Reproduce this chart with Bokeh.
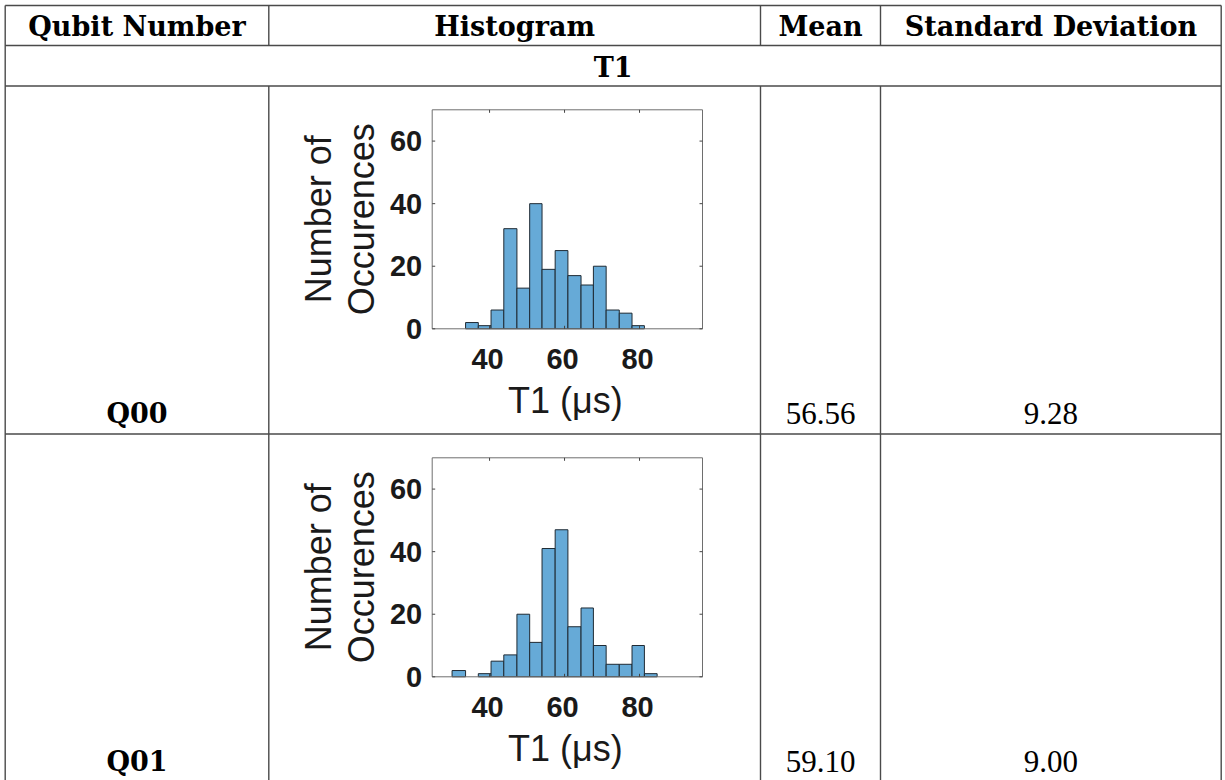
import math
from bokeh.plotting import figure
from bokeh.models import Range1d
from bokeh.core.properties import value
from bokeh.embed import file_html
from bokeh.resources import INLINE

# ---------------- data ----------------
column_headers = ["Qubit Number", "Histogram", "Mean", "Standard Deviation"]
section_title = "T1"
qubits = ["Q00", "Q01"]
means = ["56.56", "59.10"]
std_devs = ["9.28", "9.00"]

bin_edges = [30.0, 33.6, 37.0, 40.4, 43.8, 47.3, 50.7, 54.0, 57.5, 60.9,
             64.4, 67.7, 71.1, 74.6, 78.0, 81.3, 84.7]
q00_counts = [0, 2, 1, 6, 32, 13, 40, 19, 25, 17, 14, 20, 6, 5, 1, 0]
q01_counts = [2, 0, 1, 5, 7, 20, 11, 41, 47, 16, 22, 10, 4, 4, 10, 1]
counts = [q00_counts, q01_counts]

x_ticks = [40, 60, 80]
y_ticks = [0, 20, 40, 60]
x_limits = [24.7, 96.8]
y_limits = [0, 70]
x_label = "T1 (\u03bcs)"
y_label_lines = ["Number of", "Occurences"]

# ---------------- layout ----------------
W, H = 1225, 780
col_x = [4.7, 268.3, 760.0, 880.0, 1220.7]
row_y = [5.0, 45.0, 85.5, 433.5, 780.0]
row_h = row_y[3] - row_y[2]

frame_left, frame_right = 431.7, 702.0
frame_top0, frame_bottom0 = 109.3, 328.3

p = figure(width=W, height=H, output_backend="svg", toolbar_location=None,
           x_range=Range1d(0, W), y_range=Range1d(H, 0),
           x_axis_location=None, y_axis_location=None,
           min_border=0, outline_line_color=None)
p.grid.visible = False
p.background_fill_color = "white"
p.border_fill_color = "white"

# histogram scales (one per row)
sx = (frame_right - frame_left) / (x_limits[1] - x_limits[0])
p.extra_x_ranges = {"hx": Range1d(x_limits[0] - frame_left / sx,
                                  x_limits[0] + (W - frame_left) / sx)}
sy = (frame_bottom0 - frame_top0) / (y_limits[1] - y_limits[0])
for r in range(len(qubits)):
    fb = frame_bottom0 + r * row_h
    p.extra_y_ranges[f"hy{r}"] = Range1d((fb - H) / sy, fb / sy)

# ---------------- table lines ----------------
line_kw = dict(line_color="#4a4a4a", line_width=1.4)
for y in row_y[:4]:
    p.segment(x0=[col_x[0]], x1=[col_x[-1]], y0=[y], y1=[y], **line_kw)
for x in (col_x[0], col_x[-1]):
    p.segment(x0=[x], x1=[x], y0=[row_y[0]], y1=[row_y[-1]], **line_kw)
for x in col_x[1:-1]:
    p.segment(x0=[x, x], x1=[x, x], y0=[row_y[0], row_y[2]], y1=[row_y[1], row_y[-1]], **line_kw)

bold_font = value("DejaVu Serif")
num_font = value("Liberation Serif")
centers = [(col_x[i] + col_x[i + 1]) / 2 for i in range(4)]

p.text(x=centers, y=[26.4] * 4, text=column_headers, text_font=bold_font,
       text_font_style="bold", text_font_size="27px", text_align="center",
       text_baseline="middle", text_color="black")
p.text(x=[(col_x[0] + col_x[-1]) / 2], y=[66.5], text=[section_title], text_font=bold_font,
       text_font_style="bold", text_font_size="27px", text_align="center",
       text_baseline="middle", text_color="black")

for r in range(len(qubits)):
    base = 413.3 + r * row_h
    p.text(x=[centers[0]], y=[base], text=[qubits[r]], text_font=bold_font,
           text_font_style="bold", text_font_size="27px", text_align="center",
           text_baseline="middle", text_color="black")
    p.text(x=[centers[2], centers[3]], y=[base, base], text=[means[r], std_devs[r]],
           text_font=num_font, text_font_size="31px", text_align="center",
           text_baseline="middle", text_color="black")

# ---------------- histograms ----------------
sans = value("Liberation Sans")
for r in range(len(qubits)):
    yr = f"hy{r}"
    lefts = [bin_edges[i] for i, c in enumerate(counts[r]) if c > 0]
    rights = [bin_edges[i + 1] for i, c in enumerate(counts[r]) if c > 0]
    tops = [c for c in counts[r] if c > 0]
    p.quad(left=[x_limits[0]], right=[x_limits[1]], bottom=[y_limits[0]], top=[y_limits[1]],
           fill_color="white", line_color=None, x_range_name="hx", y_range_name=yr)
    p.quad(left=lefts, right=rights, bottom=[0] * len(tops), top=tops,
           fill_color="#66aad7", line_color="#1f2a33", line_width=1,
           x_range_name="hx", y_range_name=yr)
    p.quad(left=[x_limits[0]], right=[x_limits[1]], bottom=[y_limits[0]], top=[y_limits[1]],
           fill_color=None, line_color="#6e6e6e", line_width=1,
           x_range_name="hx", y_range_name=yr)
    tk = dict(length=3, length_units="screen", line_color="#444444", line_width=1,
              x_range_name="hx", y_range_name=yr)
    p.ray(x=x_ticks, y=[y_limits[0]] * 3, angle=math.pi / 2, **tk)
    p.ray(x=x_ticks, y=[y_limits[1]] * 3, angle=-math.pi / 2, **tk)
    p.ray(x=[x_limits[0]] * 4, y=y_ticks, angle=0, **tk)
    p.ray(x=[x_limits[1]] * 4, y=y_ticks, angle=math.pi, **tk)
    p.text(x=x_ticks, y=[y_limits[0]] * 3, text=[str(t) for t in x_ticks],
           x_offset=-2, y_offset=30,
           text_font=sans, text_font_style="bold", text_font_size="29px",
           text_align="center", text_baseline="middle", text_color="#1a1a1a",
           x_range_name="hx", y_range_name=yr)
    p.text(x=[x_limits[0]] * 4, y=y_ticks, text=[str(t) for t in y_ticks], x_offset=-10,
           text_font=sans, text_font_style="bold", text_font_size="29px",
           text_align="right", text_baseline="middle", text_color="#1a1a1a",
           x_range_name="hx", y_range_name=yr)
    p.text(x=[(x_limits[0] + x_limits[1]) / 2], y=[y_limits[0]], text=[x_label],
           x_offset=-2, y_offset=72,
           text_font=sans, text_font_size="36px", text_align="center",
           text_baseline="middle", text_color="#1a1a1a",
           x_range_name="hx", y_range_name=yr)
    ymid = (y_limits[0] + y_limits[1]) / 2
    p.text(x=[x_limits[0], x_limits[0]], y=[ymid, ymid], text=y_label_lines,
           x_offset=[-114, -71], angle=math.pi / 2,
           text_font=sans, text_font_size="36px", text_align="center",
           text_baseline="middle", text_color="#1a1a1a",
           x_range_name="hx", y_range_name=yr)

open("out.html", "w").write(file_html(p, INLINE))
